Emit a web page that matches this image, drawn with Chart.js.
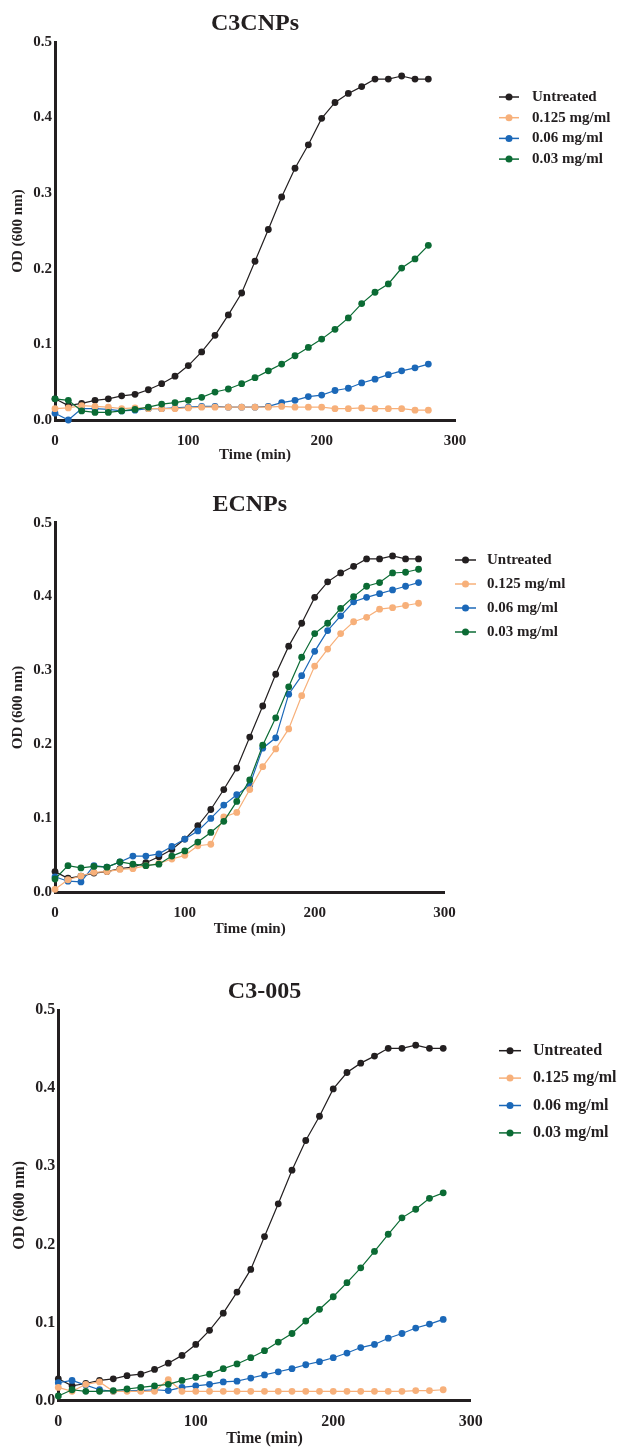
<!DOCTYPE html>
<html>
<head>
<meta charset="utf-8">
<script src="https://cdn.jsdelivr.net/npm/chart.js@4/dist/chart.umd.min.js"></script>
<style>
body{margin:0;background:#fff;}
.box{position:absolute;left:0;width:619px;}
canvas{display:block;}
</style>
</head>
<body>
<div class="box" style="top:0px"><canvas id="chartA" width="619" height="470"></canvas></div>
<div class="box" style="top:470px"><canvas id="chartB" width="619" height="475"></canvas></div>
<div class="box" style="top:945px"><canvas id="chartC" width="619" height="503"></canvas></div>
<script>
// time points (min)
var minutes = [0,10,20,30,40,50,60,70,80,90,100,110,120,130,140,150,160,170,180,190,200,210,220,230,240,250,260,270,280];
var seriesLabels = ['Untreated', '0.125 mg/ml', '0.06 mg/ml', '0.03 mg/ml'];
var seriesColors = ['#231f20', '#f7b07a', '#1b68b8', '#0b6b34'];

// untreated control (same in all three panels)
var untreated = [0.028,0.019,0.022,0.026,0.028,0.032,0.034,0.040,0.048,0.058,0.072,0.090,0.112,0.139,0.168,0.210,0.252,0.295,0.333,0.364,0.399,0.420,0.432,0.441,0.451,0.451,0.455,0.451,0.451];

// C3CNPs
var c3cnp_125 = [0.015,0.016,0.019,0.018,0.017,0.015,0.016,0.015,0.015,0.015,0.016,0.017,0.017,0.017,0.017,0.017,0.017,0.018,0.017,0.017,0.017,0.015,0.015,0.016,0.015,0.015,0.015,0.013,0.013];
var c3cnp_06 = [0.009,0.000,0.015,0.015,0.014,0.012,0.013,0.015,0.015,0.016,0.017,0.018,0.018,0.017,0.017,0.017,0.018,0.023,0.026,0.031,0.033,0.039,0.042,0.049,0.054,0.060,0.065,0.069,0.074];
var c3cnp_03 = [0.028,0.026,0.012,0.010,0.010,0.012,0.014,0.017,0.021,0.023,0.026,0.030,0.037,0.041,0.048,0.056,0.065,0.074,0.085,0.096,0.107,0.120,0.135,0.154,0.169,0.180,0.201,0.213,0.231];

// ECNPs
var ecnp_125 = [0.004,0.017,0.022,0.027,0.028,0.031,0.032,0.036,0.039,0.045,0.050,0.063,0.065,0.102,0.108,0.139,0.170,0.194,0.221,0.266,0.306,0.329,0.350,0.366,0.372,0.383,0.385,0.388,0.391];
var ecnp_06 = [0.021,0.015,0.014,0.036,0.034,0.041,0.049,0.049,0.052,0.062,0.072,0.083,0.100,0.118,0.132,0.145,0.195,0.209,0.268,0.293,0.326,0.354,0.374,0.393,0.399,0.404,0.409,0.414,0.419];
var ecnp_03 = [0.018,0.036,0.033,0.035,0.034,0.041,0.038,0.036,0.038,0.049,0.056,0.068,0.081,0.096,0.123,0.152,0.199,0.236,0.278,0.318,0.350,0.364,0.384,0.400,0.414,0.419,0.432,0.433,0.437];

// C3-005
var c3005_125 = [0.017,0.012,0.021,0.024,0.012,0.012,0.012,0.012,0.027,0.012,0.012,0.012,0.012,0.012,0.012,0.012,0.012,0.012,0.012,0.012,0.012,0.012,0.012,0.012,0.012,0.012,0.013,0.013,0.014];
var c3005_06 = [0.023,0.026,0.020,0.014,0.012,0.013,0.013,0.014,0.013,0.017,0.019,0.021,0.024,0.025,0.029,0.033,0.037,0.041,0.046,0.050,0.055,0.061,0.068,0.072,0.080,0.086,0.093,0.098,0.104];
var c3005_03 = [0.006,0.014,0.012,0.012,0.013,0.015,0.017,0.019,0.021,0.026,0.030,0.034,0.041,0.047,0.055,0.064,0.075,0.086,0.102,0.117,0.133,0.151,0.170,0.191,0.213,0.234,0.245,0.259,0.266];

var ink = '#231f20';
var serif = '"Liberation Serif", "Times New Roman", serif';
Chart.defaults.font.family = serif;
Chart.defaults.color = ink;

var sideLegend = {//legend: short line with a dot, then the label
    id: 'sideLegend',
    afterDraw: function(chart, args, opts) {
        var ctx = chart.ctx;
        ctx.save();
        chart.data.datasets.forEach(function(ds, i) {
            var y = opts.y + i * opts.gap;
            ctx.strokeStyle = ds.borderColor;
            ctx.lineWidth = 1.5;
            ctx.beginPath();
            ctx.moveTo(opts.x, y);
            ctx.lineTo(opts.x + opts.w, y);
            ctx.stroke();
            ctx.fillStyle = ds.borderColor;
            ctx.beginPath();
            ctx.arc(opts.x + opts.w / 2, y, 3.5, 0, Math.PI * 2);
            ctx.fill();
            ctx.fillStyle = ink;
            ctx.font = 'bold ' + opts.size + 'px ' + serif;
            ctx.textBaseline = 'middle';
            ctx.textAlign = 'left';
            ctx.fillText(ds.label, opts.tx, y);
        });
        ctx.restore();
    }
};

function makeChart(id, title, series, lay) {
    var sets = series.map(function(vals, i) {
        return {
            label: seriesLabels[i],
            data: minutes.map(function(m, j) { return {x: m, y: vals[j]}; }),
            borderColor: seriesColors[i],
            backgroundColor: seriesColors[i],
            pointBackgroundColor: seriesColors[i],
            pointBorderColor: seriesColors[i],
            borderWidth: 1.2,
            pointRadius: 3.4,
            pointBorderWidth: 0,
            tension: 0,
            clip: false,
            order: [3, 1, 2, 0][i]
        };
    });
    return new Chart(document.getElementById(id).getContext('2d'), {
        type: 'line',
        data: {datasets: sets},
        options: {
            responsive: false,
            animation: false,
            layout: {padding: {left: 0, top: 0, bottom: 0, right: lay.padR}},
            plugins: {
                legend: {display: false},
                tooltip: {enabled: false},
                title: {
                    display: true, text: title, fullSize: false, color: ink,
                    font: {size: 24, weight: 'bold'},
                    padding: {top: lay.tTop, bottom: lay.tBot}
                },
                sideLegend: {x: lay.lx, w: lay.lw, tx: lay.ltx, y: lay.ly, gap: lay.lgap, size: lay.lsize}
            },
            scales: {
                x: {
                    type: 'linear', min: 0, max: 300,
                    grid: {display: false, drawTicks: false},
                    border: {color: ink, width: 3},
                    ticks: {stepSize: 100, padding: lay.xPad, color: ink, font: {size: lay.font, weight: 'bold'}},
                    title: {display: true, text: 'Time (min)', color: ink, font: {size: lay.font, weight: 'bold'}, padding: {top: 0, bottom: lay.xtPad}},
                    afterFit: function(s) { s.height = lay.xh; }
                },
                y: {
                    min: 0, max: 0.5,
                    grid: {display: false, drawTicks: false},
                    border: {color: ink, width: 3},
                    ticks: {stepSize: 0.1, padding: 3, color: ink, font: {size: lay.font, weight: 'bold'},
                        callback: function(v) { return v.toFixed(1); }},
                    title: {display: true, text: 'OD (600 nm)', color: ink, font: {size: lay.font, weight: 'bold'}, padding: {top: lay.ytPad, bottom: 0}},
                    afterFit: function(s) { s.width = lay.yw; }
                }
            }
        },
        plugins: [sideLegend]
    });
}

makeChart('chartA', 'C3CNPs', [untreated, c3cnp_125, c3cnp_06, c3cnp_03],
    {padR: 164, tTop: 9, tBot: 4.2, xh: 50, xPad: 12, xtPad: 6, yw: 55, ytPad: 9, font: 15,
     lx: 499, lw: 20, ltx: 532, ly: 97, lgap: 20.7, lsize: 15});
makeChart('chartB', 'ECNPs', [untreated, ecnp_125, ecnp_06, ecnp_03],
    {padR: 174.5, tTop: 20.6, tBot: 3.3, xh: 52.7, xPad: 12, xtPad: 6.7, yw: 55, ytPad: 9, font: 15,
     lx: 455, lw: 21, ltx: 487, ly: 90, lgap: 24, lsize: 15});
makeChart('chartC', 'C3-005', [untreated, c3005_125, c3005_06, c3005_03],
    {padR: 148.3, tTop: 32.6, tBot: 3.6, xh: 47.3, xPad: 12, xtPad: 0, yw: 58.3, ytPad: 10, font: 16,
     lx: 499, lw: 22, ltx: 533, ly: 105.7, lgap: 27.4, lsize: 16});
</script>
</body>
</html>
